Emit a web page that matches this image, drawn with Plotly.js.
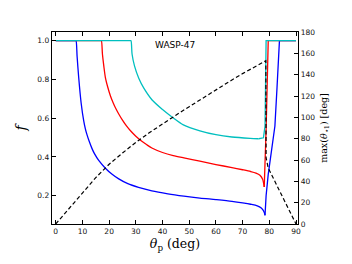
<!DOCTYPE html>
<html>
<head>
<meta charset="utf-8">
<script src="https://cdn.plot.ly/plotly-3.0.1.min.js"></script>
<style>html,body{margin:0;padding:0;background:#fff;}#chart{width:352px;height:264px;}</style>
</head>
<body>
<div id="chart"></div>
<script>
// Blue series (f vs theta_p)
const blueTheta = [0, 7.4, 7.6, 8.0, 8.6, 9.5, 10.5, 11.1, 11.7, 12.5, 13.6, 14.5, 16.1, 18.6, 21, 23.6, 27, 31, 36, 42, 48, 54, 60, 66, 70, 73, 75.5, 77, 78, 78.4, 78.8, 79.6, 80.5, 82.1, 82.9, 83.7, 83.8, 90];
const blueF = [1, 1, 1, 0.92, 0.81, 0.68, 0.585, 0.545, 0.515, 0.482, 0.443, 0.417, 0.382, 0.342, 0.312, 0.287, 0.262, 0.243, 0.225, 0.21, 0.198, 0.188, 0.18, 0.171, 0.163, 0.156, 0.148, 0.136, 0.118, 0.099, 0.2, 0.31, 0.41, 0.56, 0.76, 1.0, 1.0, 1.0];
// Red series
const redTheta = [0, 16.9, 17.1, 17.5, 18.0, 18.6, 19.5, 20.5, 21.5, 22.5, 23.6, 25, 26.5, 28, 30, 32, 34, 36, 40, 44, 48, 54, 60, 66, 70, 73, 75, 76.5, 77.5, 78.1, 78.5, 78.8, 79.6, 79.7, 90];
const redF = [1, 1, 1, 0.93, 0.87, 0.81, 0.76, 0.715, 0.68, 0.65, 0.622, 0.59, 0.56, 0.535, 0.507, 0.484, 0.464, 0.446, 0.423, 0.407, 0.395, 0.378, 0.361, 0.345, 0.334, 0.325, 0.317, 0.306, 0.285, 0.245, 0.4, 0.54, 1.0, 1.0, 1.0];
// Cyan series
const cyanTheta = [0, 28.0, 28.2, 28.6, 29.5, 31.1, 33, 36.1, 40, 43.8, 47.8, 54, 60, 66, 72.8, 76, 77.8, 78.4, 78.7, 78.8, 90];
const cyanF = [1, 1, 1, 0.93, 0.87, 0.806, 0.755, 0.694, 0.645, 0.604, 0.566, 0.535, 0.515, 0.503, 0.496, 0.494, 0.499, 0.56, 1.0, 1.0, 1.0];
// Dashed: max(theta_*1) in deg (right axis)
const dashTheta = [0, 5, 10, 15, 20, 25, 30, 35, 40, 45, 50, 55, 60, 65, 70, 75, 78.7, 78.75, 78.8, 79.6, 82, 84, 86, 88, 90];
const dashMax = [0, 15, 29, 43.5, 56, 66.5, 76.5, 85.5, 94, 102, 110, 118, 126, 133.5, 141, 148, 153, 100, 62, 52.5, 40.5, 30.5, 20.5, 10, 0];

const xTicks = [0, 10, 20, 30, 40, 50, 60, 70, 80, 90];
const yTicks = [0.2, 0.4, 0.6, 0.8, 1.0];
const y2Ticks = [0, 20, 40, 60, 80, 100, 120, 140, 160, 180];

const lw = 1.3;
// Split a curve at its minimum: smooth descending branch, straight rising branch
function branches(xs, ys, color) {
  let imin = 0;
  ys.forEach((v, i) => { if (v < ys[imin]) imin = i; });
  return [
    {x: xs.slice(0, imin + 1), y: ys.slice(0, imin + 1), type: 'scatter', mode: 'lines',
     line: {color: color, width: lw, shape: 'spline', smoothing: 0.8}, yaxis: 'y', hoverinfo: 'skip'},
    {x: xs.slice(imin), y: ys.slice(imin), type: 'scatter', mode: 'lines',
     line: {color: color, width: lw}, yaxis: 'y', hoverinfo: 'skip'}
  ];
}

const traces = [].concat(
  branches(blueTheta, blueF, '#0000ff'),
  branches(redTheta, redF, '#ff0000'),
  branches(cyanTheta, cyanF, '#00bfbf'),
  [{x: dashTheta, y: dashMax, type: 'scatter', mode: 'lines',
    line: {color: '#000000', width: 1.2, dash: '4px,2.5px'}, yaxis: 'y2', xaxis: 'x', hoverinfo: 'skip'}]
);

const tickFont = {family: 'DejaVu Sans', size: 7.5, color: '#111'};
const layout = {
  width: 352, height: 264,
  margin: {l: 52, r: 54, t: 32, b: 40, pad: 0},
  paper_bgcolor: '#fff', plot_bgcolor: '#fff',
  showlegend: false,
  xaxis: {
    range: [-1.4, 90.75], tickvals: xTicks, ticktext: xTicks.map(String),
    ticks: 'inside', ticklen: 4, tickwidth: 1, tickcolor: '#000',
    showline: true, linecolor: '#000', linewidth: 1.3, mirror: 'ticks',
    showgrid: false, zeroline: false, tickfont: tickFont,
    title: {text: '<i>θ</i><sub>p</sub> (deg)', font: {family: 'DejaVu Serif', size: 12.5, color: '#000'}, standoff: 2}
  },
  yaxis: {
    range: [0.054, 1.045], tickvals: yTicks, ticktext: yTicks.map(v => v.toFixed(1)),
    ticks: 'inside', ticklen: 4, tickwidth: 1, tickcolor: '#000',
    showline: true, linecolor: '#000', linewidth: 1.3, mirror: false,
    showgrid: false, zeroline: false, tickfont: tickFont,
    title: {text: '<i>f</i>', font: {family: 'DejaVu Serif', size: 14, color: '#000'}, standoff: 7}
  },
  yaxis2: {
    range: [0, 180], tickvals: y2Ticks, ticktext: y2Ticks.map(String),
    overlaying: 'y', side: 'right', anchor: 'x',
    ticks: 'inside', ticklen: 4, tickwidth: 1, tickcolor: '#000',
    showline: true, linecolor: '#000', linewidth: 1.3,
    showgrid: false, zeroline: false, tickfont: tickFont,
    title: {text: 'max(<i>θ</i><sub>⋆1</sub>) [deg]', font: {family: 'DejaVu Serif', size: 9.5, color: '#000'}, standoff: 6}
  },
  annotations: [
    {text: 'WASP-47', xref: 'paper', yref: 'paper', x: 0.5, y: 0.93, xanchor: 'center', yanchor: 'middle',
     showarrow: false, font: {family: 'DejaVu Sans', size: 9, color: '#000'}}
  ]
};

Plotly.newPlot('chart', traces, layout, {displayModeBar: false, staticPlot: true});
</script>
</body>
</html>
